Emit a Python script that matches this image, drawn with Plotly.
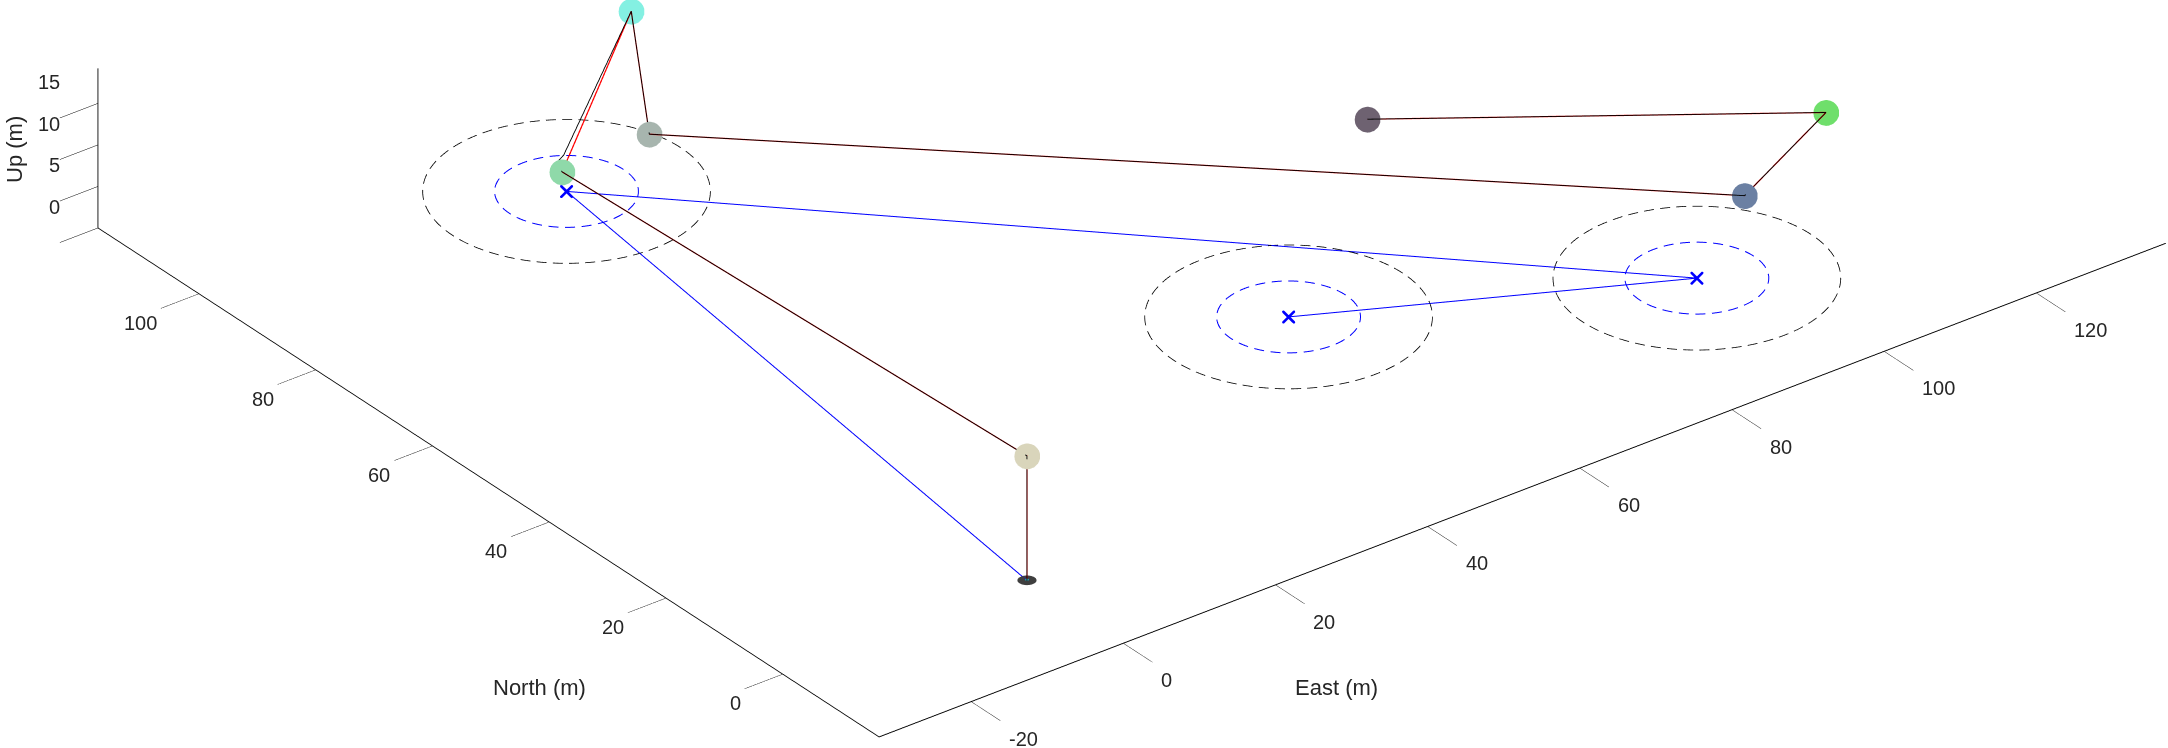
import numpy as np
import plotly.graph_objects as go

# ---------------- data ----------------
east_ticks = [-20, 0, 20, 40, 60, 80, 100, 120]
north_ticks = [0, 20, 40, 60, 80, 100]
up_ticks = [0, 5, 10, 15]
east_range = [-32.1, 137.0]
north_range = [-16.5, 117.3]
up_range = [0.0, 19.2]

# waypoints (ground)
wp_east = [11.3, 55.1, 93.8]
wp_north = [93.6, 27.0, 7.5]
wp_up = [0.0, 0.0, 0.0]
inner_radius = 7.5
outer_radius = 15.0

# planned path (blue)
plan_east = [0.0, 11.3, 93.8, 55.1]
plan_north = [0.0, 93.6, 7.5, 27.0]
plan_up = [0.0, 0.0, 0.0, 0.0]

# reference trajectory (red)
ref_east = [0.0, 0.0, -2.4, 19.5, 9.6, 92.4, 109.7, 70.9]
ref_north = [0.0, 0.0, 76.5, 93.2, 77.2, -2.5, 6.1, 34.1]
ref_up = [0.0, 15.0, 15.0, 19.0, 15.0, 15.0, 15.0, 15.0]

# flown trajectory (black)
fly_east = [0.0, 0.0, -2.4, -1.8, -1.2, 19.5, 9.6, 92.4, 109.7, 70.9]
fly_north = [0.0, 0.0, 76.5, 78.3, 77.8, 93.2, 77.2, -2.5, 6.1, 34.1]
fly_up = [0.0, 15.0, 15.0, 15.0, 16.0, 19.0, 15.0, 15.0, 15.0, 15.0]

# mission point markers (ref points 1..7)
marker_colors = ['#d9d5bb', '#8fd9a9', '#84f0e2', '#a7b5ae', '#6b80a3', '#6fdf6b', '#6e6271']

# ---------------- view ----------------
W, H = 2168, 748
view_az = -37.5
view_el = 30.0
px_per_m = 9.59
px_per_world = H / 2.0            # plotly orthographic scale
eye_dist = 8.0
box_center_px = (1131.8, 155.9)   # where the axes box centre sits in the picture
dash_px, gap_px = 10.0, 6.0
depth_bias_m = 0.2

ink = '#262626'
font_family = 'Liberation Sans, Arial, sans-serif'

az = np.deg2rad(view_az)
el = np.deg2rad(view_el)
eye_dir = np.array([np.sin(az) * np.cos(el), -np.cos(az) * np.cos(el), np.sin(el)])
right_v = np.array([np.cos(az), np.sin(az), 0.0])
up_v = np.cross(eye_dir, right_v)
up_v = up_v if up_v[2] > 0 else -up_v
# screen-pixel vectors of one metre east / north
ex_px = px_per_m * np.array([right_v[0], up_v[0]])
ny_px = px_per_m * np.array([right_v[1], up_v[1]])


def dashed_circle(ce, cn, cu, r):
    th = np.linspace(0, 2 * np.pi, 1441)
    sx = r * (np.cos(th) * ex_px[0] + np.sin(th) * ny_px[0])
    sy = r * (np.cos(th) * ex_px[1] + np.sin(th) * ny_px[1])
    s = np.concatenate([[0], np.cumsum(np.hypot(np.diff(sx), np.diff(sy)))])
    period = dash_px + gap_px
    nd = int(s[-1] // period)
    period = s[-1] / nd
    xs, ys, zs = [], [], []
    for k in range(nd):
        sv = np.linspace(k * period, k * period + dash_px, 8)
        tv = np.interp(sv, s, th)
        xs += list(ce + r * np.cos(tv)) + [None]
        ys += list(cn + r * np.sin(tv)) + [None]
        zs += [cu] * 8 + [None]
    return xs, ys, zs


fig = go.Figure()

# mission markers (drawn first so lines stay visible on top)
fig.add_trace(go.Scatter3d(x=ref_east[1:], y=ref_north[1:], z=ref_up[1:], mode='markers',
                           marker=dict(size=15, color=marker_colors, opacity=1, line=dict(width=0)),
                           showlegend=False, hoverinfo='skip'))

# start vehicle disc
n = 32
ang = np.linspace(0, 2 * np.pi, n, endpoint=False)
disc_r = 1.0
dx = np.concatenate([[ref_east[0]], ref_east[0] + disc_r * np.cos(ang)])
dy = np.concatenate([[ref_north[0]], ref_north[0] + disc_r * np.sin(ang)])
dz = np.full(n + 1, ref_up[0] + 0.02)
fi = np.zeros(n, dtype=int)
fj = np.arange(1, n + 1)
fk = np.roll(fj, -1)
fig.add_trace(go.Mesh3d(x=dx, y=dy, z=dz, i=fi, j=fj, k=fk, color='#3f3f3f', opacity=1,
                        flatshading=True, lighting=dict(ambient=1, diffuse=0, specular=0, fresnel=0),
                        showscale=False, hoverinfo='skip'))

# circles
for ce, cn, cu in zip(wp_east, wp_north, wp_up):
    for r, col, w in [(inner_radius, '#0000ff', 2.0), (outer_radius, '#000000', 1.6)]:
        xs, ys, zs = dashed_circle(ce, cn, cu, r)
        fig.add_trace(go.Scatter3d(x=xs, y=ys, z=zs, mode='lines', connectgaps=False,
                                   line=dict(color=col, width=w), showlegend=False, hoverinfo='skip'))

# planned path
fig.add_trace(go.Scatter3d(x=plan_east, y=plan_north, z=plan_up, mode='lines',
                           line=dict(color='#0000ff', width=2), showlegend=False, hoverinfo='skip'))
fig.add_trace(go.Scatter3d(x=wp_east, y=wp_north, z=wp_up, mode='markers',
                           marker=dict(symbol='x', size=3, color='#0000ff'), showlegend=False, hoverinfo='skip'))

# trajectories: red reference, black flown path on top (nudged toward the camera only in depth)
fig.add_trace(go.Scatter3d(x=ref_east, y=ref_north, z=ref_up, mode='lines',
                           line=dict(color='#ff0000', width=2.5), showlegend=False, hoverinfo='skip'))
bias = depth_bias_m * eye_dir
fig.add_trace(go.Scatter3d(x=np.array(fly_east) + bias[0], y=np.array(fly_north) + bias[1],
                           z=np.array(fly_up) + bias[2], mode='lines',
                           line=dict(color='#000000', width=1.8), showlegend=False, hoverinfo='skip'))

fig.add_trace(go.Scatter3d(x=[ref_east[0]], y=[ref_north[0]], z=[ref_up[0] + 0.05], mode='markers',
                           marker=dict(size=2, color='#00e5ff'), showlegend=False, hoverinfo='skip'))

# ---------------- camera ----------------
spans = np.array([east_range[1] - east_range[0], north_range[1] - north_range[0], up_range[1] - up_range[0]])
world_per_m = px_per_m / px_per_world
asp = spans * world_per_m

s_r = (box_center_px[0] - W / 2.0) / px_per_world
s_u = (H / 2.0 - box_center_px[1]) / px_per_world
cs = -(s_r * right_v + s_u * up_v)
eye = cs + eye_dist * eye_dir


def axis_style(rng, tv):
    return dict(range=rng, tickvals=tv, title=dict(text=''), showticklabels=False,
                showgrid=False, zeroline=False, showbackground=False, showspikes=False,
                showline=True, linecolor='#000000', linewidth=2,
                ticks='outside', ticklen=48, tickcolor='#000000', tickwidth=1,
                autorange=False)


tick_font = dict(size=20, color=ink, family=font_family)
scene_ann = []
for t in east_ticks:
    scene_ann.append(dict(x=t, y=north_range[0], z=up_range[0], text=str(t), showarrow=False,
                          xanchor='left', yanchor='middle', xshift=36, yshift=-37, font=tick_font))
for t in north_ticks:
    scene_ann.append(dict(x=east_range[0], y=t, z=up_range[0], text=str(t), showarrow=False,
                          xanchor='right', yanchor='middle', xshift=-40, yshift=-29, font=tick_font))
for t in up_ticks:
    scene_ann.append(dict(x=east_range[0], y=north_range[1], z=t, text=str(t), showarrow=False,
                          xanchor='right', yanchor='middle', xshift=-36, yshift=21, font=tick_font))

label_font = dict(size=22, color=ink, family=font_family)
fig.update_layout(
    width=W, height=H, margin=dict(l=0, r=0, t=0, b=0),
    paper_bgcolor='white', plot_bgcolor='white', showlegend=False,
    scene=dict(
        domain=dict(x=[0, 1], y=[0, 1]),
        xaxis=axis_style(east_range, east_ticks),
        yaxis=axis_style(north_range, north_ticks),
        zaxis=axis_style(up_range, up_ticks),
        aspectmode='manual', aspectratio=dict(x=asp[0], y=asp[1], z=asp[2]),
        camera=dict(projection=dict(type='orthographic'), up=dict(x=0, y=0, z=1),
                    center=dict(x=cs[0], y=cs[1], z=cs[2]),
                    eye=dict(x=eye[0], y=eye[1], z=eye[2])),
        annotations=scene_ann,
    ),
    annotations=[
        dict(text='East (m)', x=1337 / W, y=1 - 687 / H, xref='paper', yref='paper', showarrow=False,
             xanchor='center', yanchor='middle', font=label_font),
        dict(text='North (m)', x=539 / W, y=1 - 687 / H, xref='paper', yref='paper', showarrow=False,
             xanchor='center', yanchor='middle', font=label_font),
        dict(text='Up (m)', x=14 / W, y=1 - 150 / H, xref='paper', yref='paper', showarrow=False,
             xanchor='center', yanchor='middle', textangle=-90, font=label_font),
    ],
)

fig.write_html('out.html', config=dict(displayModeBar=False))
